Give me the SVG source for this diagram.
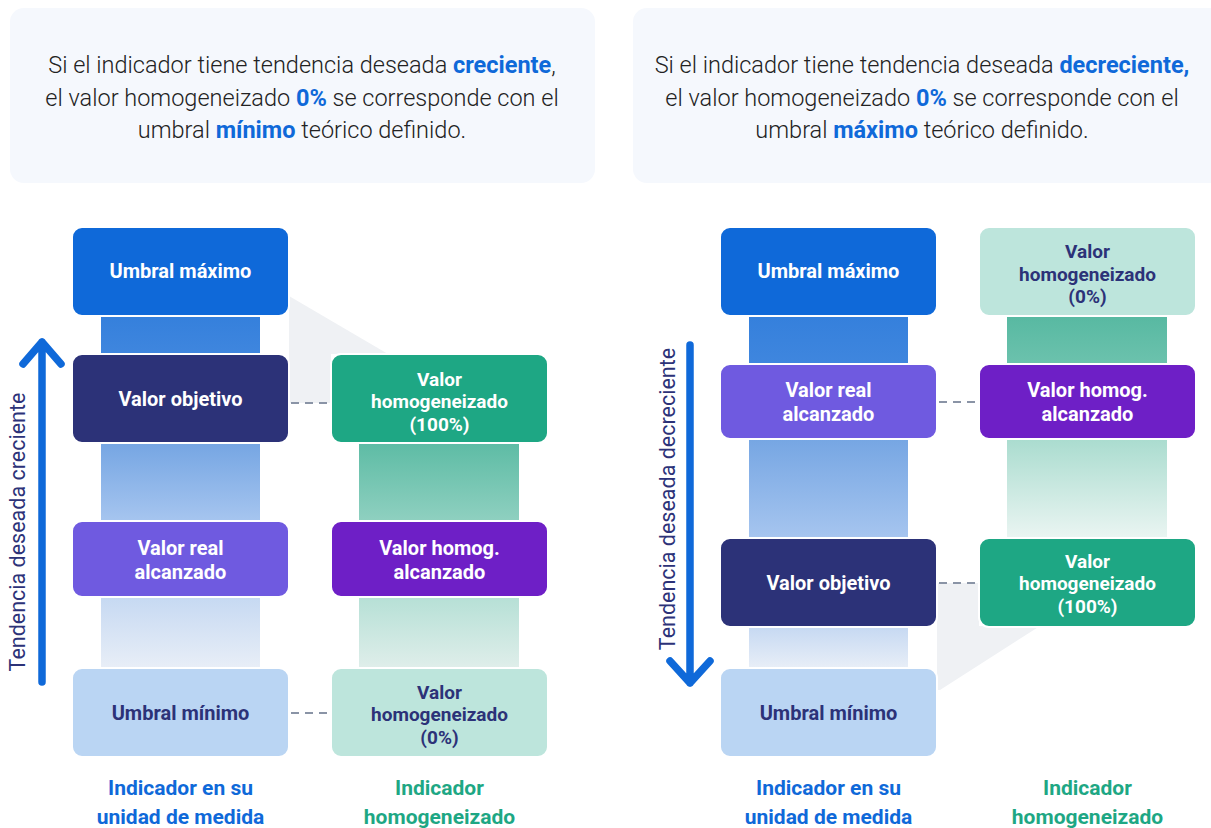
<svg xmlns="http://www.w3.org/2000/svg" width="1211" height="828" viewBox="0 0 1211 828">
<style>
.panel{fill:#f5f8fd}
.title{font-family:Roboto,"Liberation Sans",sans-serif;font-weight:300;font-size:23.5px;fill:#222;text-anchor:middle}
.hl{font-weight:700;fill:#0f69d9}
.box{stroke:#fff;stroke-width:2}
.nt{font-family:Roboto,"Liberation Sans",sans-serif;font-weight:700;font-size:20px;text-anchor:middle;fill:#fff}
.n3{font-size:19px}
.nd{fill:#2c3278}
.dash{stroke:#8a94a6;stroke-width:2;stroke-dasharray:8 6;fill:none}
.arrow{stroke:#0f69d9;stroke-width:7.5;stroke-linecap:round;stroke-linejoin:round;fill:none}
.side{font-family:Roboto,"Liberation Sans",sans-serif;font-weight:400;font-size:21.5px;fill:#2c3278;text-anchor:middle}
.lab{font-family:Roboto,"Liberation Sans",sans-serif;font-weight:700;font-size:21px;text-anchor:middle}
.blue{fill:#0f69d9}
.green{fill:#1ea784}
.shade{fill:#eff1f4}
</style>
<defs>
<linearGradient id="gB1" x1="0" y1="0" x2="0" y2="1"><stop offset="0" stop-color="#3580dc"/><stop offset="1" stop-color="#3f86de"/></linearGradient>
<linearGradient id="gB2" x1="0" y1="0" x2="0" y2="1"><stop offset="0" stop-color="#76a6e3"/><stop offset="1" stop-color="#a6c5ef"/></linearGradient>
<linearGradient id="gB3" x1="0" y1="0" x2="0" y2="1"><stop offset="0" stop-color="#c6d9f2"/><stop offset="1" stop-color="#e8eef7"/></linearGradient>
<linearGradient id="gG1" x1="0" y1="0" x2="0" y2="1"><stop offset="0" stop-color="#58b9a2"/><stop offset="1" stop-color="#6cc2ad"/></linearGradient>
<linearGradient id="gG2" x1="0" y1="0" x2="0" y2="1"><stop offset="0" stop-color="#5ebca5"/><stop offset="1" stop-color="#8fd0c0"/></linearGradient>
<linearGradient id="gG3" x1="0" y1="0" x2="0" y2="1"><stop offset="0" stop-color="#b6e0d6"/><stop offset="1" stop-color="#dfeeea"/></linearGradient>
<linearGradient id="gG4" x1="0" y1="0" x2="0" y2="1"><stop offset="0" stop-color="#aadccf"/><stop offset="1" stop-color="#eaf5f2"/></linearGradient>
</defs>

<!-- Header panels -->
<g id="header-left">
<rect class="panel" x="10" y="8" width="585" height="175" rx="14"/>
<text class="title" x="302" y="73">Si el indicador tiene tendencia deseada <tspan class="hl">creciente</tspan>,</text>
<text class="title" x="302" y="106">el valor homogeneizado <tspan class="hl">0%</tspan> se corresponde con el</text>
<text class="title" x="302" y="138">umbral <tspan class="hl">mínimo</tspan> teórico definido.</text>
</g>
<g id="header-right">
<rect class="panel" x="633" y="8" width="600" height="175" rx="14"/>
<text class="title" x="922" y="73">Si el indicador tiene tendencia deseada <tspan class="hl">decreciente,</tspan></text>
<text class="title" x="922" y="106">el valor homogeneizado <tspan class="hl">0%</tspan> se corresponde con el</text>
<text class="title" x="922" y="138">umbral <tspan class="hl">máximo</tspan> teórico definido.</text>
</g>

<!-- Shaded projections and bars -->
<g id="bars">
<polygon class="shade" points="289,296 388,354 331,354 331,403 289,403"/>
<polygon class="shade" points="937,583 979,583 979,626 1040,626 940,690 937,690"/>
<rect x="101" y="317" width="159" height="37" fill="url(#gB1)"/>
<rect x="101" y="444" width="159" height="77" fill="url(#gB2)"/>
<rect x="101" y="597" width="159" height="71" fill="url(#gB3)"/>
<rect x="359" y="444" width="160" height="77" fill="url(#gG2)"/>
<rect x="359" y="597" width="160" height="71" fill="url(#gG3)"/>
<rect x="749" y="317" width="159" height="47" fill="url(#gB1)"/>
<rect x="749" y="439" width="159" height="99" fill="url(#gB2)"/>
<rect x="749" y="627" width="159" height="41" fill="url(#gB3)"/>
<rect x="1007" y="317" width="160" height="47" fill="url(#gG1)"/>
<rect x="1007" y="439" width="160" height="99" fill="url(#gG4)"/>
</g>

<!-- Connectors -->
<g id="connectors">
<line class="dash" x1="291" y1="403" x2="331" y2="403"/>
<line class="dash" x1="291" y1="713" x2="331" y2="713"/>
<line class="dash" x1="939" y1="402" x2="979" y2="402"/>
<line class="dash" x1="939" y1="583" x2="979" y2="583"/>
<path class="arrow" d="M42,682 V342 M23,364 L42,342 L61,364"/>
<path class="arrow" d="M690,345 V683 M670,661 L690,683 L710,661"/>
</g>

<!-- Left panel nodes -->
<g id="l-umbral-max">
<rect class="box" x="72" y="227" width="217" height="89" rx="10" fill="#0f69d9"/>
<text class="nt" x="180.5" y="278">Umbral máximo</text>
</g>
<g id="l-valor-objetivo">
<rect class="box" x="72" y="354" width="217" height="89" rx="10" fill="#2c3278"/>
<text class="nt" x="180.5" y="406">Valor objetivo</text>
</g>
<g id="l-valor-real">
<rect class="box" x="72" y="521" width="217" height="76" rx="10" fill="#6f5ae0"/>
<text class="nt" x="180.5" y="555">Valor real<tspan x="180.5" dy="24">alcanzado</tspan></text>
</g>
<g id="l-umbral-min">
<rect class="box" x="72" y="668" width="217" height="89" rx="10" fill="#bad5f3"/>
<text class="nt nd" x="180.5" y="720">Umbral mínimo</text>
</g>
<g id="l-homog-100">
<rect class="box" x="331" y="354" width="217" height="89" rx="10" fill="#1ea784"/>
<text class="nt n3" x="439.5" y="385.5">Valor<tspan x="439.5" dy="22.5">homogeneizado</tspan><tspan x="439.5" dy="22.5">(100%)</tspan></text>
</g>
<g id="l-homog-alc">
<rect class="box" x="331" y="521" width="217" height="76" rx="10" fill="#6e1fc6"/>
<text class="nt" x="439.5" y="555">Valor homog.<tspan x="439.5" dy="24">alcanzado</tspan></text>
</g>
<g id="l-homog-0">
<rect class="box" x="331" y="668" width="217" height="89" rx="10" fill="#bde5dc"/>
<text class="nt nd n3" x="439.5" y="698.5">Valor<tspan x="439.5" dy="22.5">homogeneizado</tspan><tspan x="439.5" dy="22.5">(0%)</tspan></text>
</g>

<!-- Right panel nodes -->
<g id="r-umbral-max">
<rect class="box" x="720" y="227" width="217" height="89" rx="10" fill="#0f69d9"/>
<text class="nt" x="828.5" y="278">Umbral máximo</text>
</g>
<g id="r-valor-real">
<rect class="box" x="720" y="364" width="217" height="75" rx="10" fill="#6f5ae0"/>
<text class="nt" x="828.5" y="397">Valor real<tspan x="828.5" dy="24">alcanzado</tspan></text>
</g>
<g id="r-valor-objetivo">
<rect class="box" x="720" y="538" width="217" height="89" rx="10" fill="#2c3278"/>
<text class="nt" x="828.5" y="590">Valor objetivo</text>
</g>
<g id="r-umbral-min">
<rect class="box" x="720" y="668" width="217" height="89" rx="10" fill="#bad5f3"/>
<text class="nt nd" x="828.5" y="720">Umbral mínimo</text>
</g>
<g id="r-homog-0">
<rect class="box" x="979" y="227" width="217" height="89" rx="10" fill="#bde5dc"/>
<text class="nt nd n3" x="1087.5" y="258">Valor<tspan x="1087.5" dy="22.5">homogeneizado</tspan><tspan x="1087.5" dy="22.5">(0%)</tspan></text>
</g>
<g id="r-homog-alc">
<rect class="box" x="979" y="364" width="217" height="75" rx="10" fill="#6e1fc6"/>
<text class="nt" x="1087.5" y="397">Valor homog.<tspan x="1087.5" dy="24">alcanzado</tspan></text>
</g>
<g id="r-homog-100">
<rect class="box" x="979" y="538" width="217" height="89" rx="10" fill="#1ea784"/>
<text class="nt n3" x="1087.5" y="567.5">Valor<tspan x="1087.5" dy="22.5">homogeneizado</tspan><tspan x="1087.5" dy="22.5">(100%)</tspan></text>
</g>

<!-- Side labels -->
<text class="side" transform="translate(25,532) rotate(-90)">Tendencia deseada creciente</text>
<text class="side" transform="translate(675,499) rotate(-90)">Tendencia deseada decreciente</text>

<!-- Column labels -->
<text class="lab blue" x="180.5" y="795">Indicador en su<tspan x="180.5" dy="29">unidad de medida</tspan></text>
<text class="lab green" x="439.5" y="795">Indicador<tspan x="439.5" dy="29">homogeneizado</tspan></text>
<text class="lab blue" x="828.5" y="795">Indicador en su<tspan x="828.5" dy="29">unidad de medida</tspan></text>
<text class="lab green" x="1087.5" y="795">Indicador<tspan x="1087.5" dy="29">homogeneizado</tspan></text>
</svg>
